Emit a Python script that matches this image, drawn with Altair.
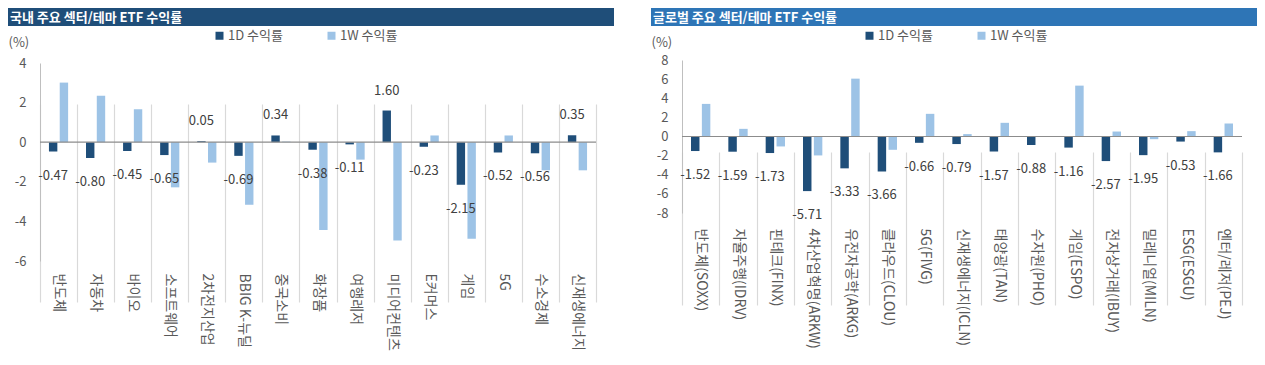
import altair as alt
import pandas as pd

FONT = "Noto Sans CJK KR"
S1, S2 = "1D 수익률", "1W 수익률"

kr_title = "국내 주요 섹터/테마 ETF 수익률"
kr_cats = ["반도체", "자동차", "바이오", "소프트웨어", "2차전지산업", "BBIG K-뉴딜", "중국소비", "화장품",
           "여행레저", "미디어컨텐츠", "E커머스", "게임", "5G", "수소경제", "신재생에너지"]
kr_1d = [-0.47, -0.80, -0.45, -0.65, 0.05, -0.69, 0.34, -0.38, -0.11, 1.60, -0.23, -2.15, -0.52, -0.56, 0.35]
kr_1w = [3.01, 2.34, 1.66, -2.28, -1.03, -3.16, 0.03, -4.43, -0.88, -4.97, 0.34, -4.87, 0.34, -1.42, -1.42]
kr_ticks = [-6, -4, -2, 0, 2, 4]

gl_title = "글로벌 주요 섹터/테마 ETF 수익률"
gl_cats = ["반도체(SOXX)", "자율주행(IDRV)", "핀테크(FINX)", "4차산업혁명(ARKW)", "유전자공학(ARKG)",
           "클라우드(CLOU)", "5G(FIVG)", "신재생에너지(ICLN)", "태양광(TAN)", "수자원(PHO)", "게임(ESPO)",
           "전자상거래(IBUY)", "밀레니얼(MILN)", "ESG(ESGU)", "엔터/레저(PEJ)"]
gl_1d = [-1.52, -1.59, -1.73, -5.71, -3.33, -3.66, -0.66, -0.79, -1.57, -0.88, -1.16, -2.57, -1.95, -0.53, -1.66]
gl_1w = [3.41, 0.80, -1.04, -1.98, 6.05, -1.39, 2.37, 0.25, 1.43, -0.05, 5.32, 0.52, -0.28, 0.56, 1.36]
gl_ticks = [-8, -6, -4, -2, 0, 2, 4, 6, 8]

W, H = 1249, 349
NAVY, LIGHT, BLUE = "#1F4E79", "#9DC3E6", "#2E75B6"
GRAY = "#595959"


def panel(title, cats, d1, w1, ydom, yticks, xr, yr, bar_x0, bar_x1, bar_color, leg_x, lab_pad):
    n = len(cats)
    bars = pd.DataFrame({"cat": cats * 2, "series": [S1] * n + [S2] * n, "value": d1 + w1})
    labs = pd.DataFrame({"cat": cats, "series": [S1] * n, "value": d1,
                         "label": [f"{v:.2f}" for v in d1]})
    tdf = pd.DataFrame({"title": [title]})

    x = alt.X("cat:N", sort=cats,
              scale=alt.Scale(range=xr, paddingInner=0, paddingOuter=0),
              axis=alt.Axis(title=None, orient="bottom", labelAngle=90, tickBand="extent",
                            grid=True, gridColor="#D9D9D9", gridWidth=1.2, domain=False,
                            ticks=False, labelPadding=lab_pad, offset=-(H - yr[0]),
                            labelFontSize=14, labelColor=GRAY, labelFont=FONT, labelLimit=0,
                            labelAlign="left", labelBaseline="middle"))
    y = alt.Y("value:Q",
              scale=alt.Scale(domain=ydom, range=yr, nice=False),
              axis=alt.Axis(values=yticks, orient="left", offset=-xr[0], grid=False, ticks=False,
                            domainColor="#BFBFBF", labelPadding=14, labelFontSize=13,
                            labelColor=GRAY, labelFont=FONT,
                            labelExpr="toString(datum.value)",
                            title="(%)", titleAngle=0, titleAlign="left", titleBaseline="middle",
                            titleX=bar_x0 - xr[0], titleY=34, titleFont=FONT, titleFontSize=13,
                            titleFontWeight="normal", titleColor=GRAY))
    xo = alt.XOffset("series:N", sort=[S1, S2],
                     scale=alt.Scale(paddingInner=0.22, paddingOuter=0.83))
    color = alt.Color("series:N", sort=[S1, S2],
                      scale=alt.Scale(domain=[S1, S2], range=[NAVY, LIGHT]),
                      legend=alt.Legend(orient="none", legendX=leg_x, legendY=21,
                                        direction="horizontal", title=None,
                                        symbolType="square", symbolSize=64,
                                        symbolStrokeWidth=0, labelFontSize=13,
                                        labelColor=GRAY, labelFont=FONT, labelOffset=2,
                                        columnPadding=42, padding=0))

    bar_layer = alt.Chart(bars).mark_bar().encode(x=x, xOffset=xo, y=y, color=color)
    zero = alt.Chart(pd.DataFrame({"z": [0]})).mark_rule(color="#8C8C8C", strokeWidth=1.2).encode(
        y=alt.Y("z:Q"), x=alt.value(xr[0]), x2=alt.value(xr[1]))
    txt_neg = alt.Chart(labs).transform_filter("datum.value < 0").mark_text(
        font=FONT, fontSize=13, color="#404040", dy=24, baseline="middle").encode(
        x=alt.X("cat:N", sort=cats), xOffset=alt.XOffset("series:N"), y=alt.Y("value:Q"),
        text="label:N")
    txt_pos = alt.Chart(labs).transform_filter("datum.value >= 0").mark_text(
        font=FONT, fontSize=13, color="#404040", dy=-20, baseline="middle").encode(
        x=alt.X("cat:N", sort=cats), xOffset=alt.XOffset("series:N"), y=alt.Y("value:Q"),
        text="label:N")
    tbar = alt.Chart(tdf).mark_rect(color=bar_color).encode(
        x=alt.value(bar_x0), x2=alt.value(bar_x1), y=alt.value(0), y2=alt.value(18))
    ttext = alt.Chart(tdf).mark_text(align="left", baseline="middle", font=FONT, fontSize=13,
                                     fontWeight="bold", color="white").encode(
        x=alt.value(bar_x0 + 2), y=alt.value(10), text="title:N")
    return alt.layer(bar_layer, zero, txt_neg, txt_pos, tbar, ttext)


left = panel(kr_title, kr_cats, kr_1d, kr_1w, [-6, 4], kr_ticks, [32, 588], [253, 55],
             0, 606, NAVY, 205, 12)
right = panel(gl_title, gl_cats, gl_1d, gl_1w, [-8, 8], gl_ticks, [674, 1234], [205, 52],
              643, W, BLUE, 855, 15)

chart = alt.layer(left, right).resolve_scale(
    x="independent", y="independent", xOffset="independent", color="independent"
).resolve_axis(x="independent", y="independent").resolve_legend(color="independent").properties(
    width=W, height=H, padding=0, autosize=alt.AutoSizeParams(type="none")
).configure_view(stroke=None)

chart.save("out.html", embed_options={"renderer": "svg", "actions": False})
